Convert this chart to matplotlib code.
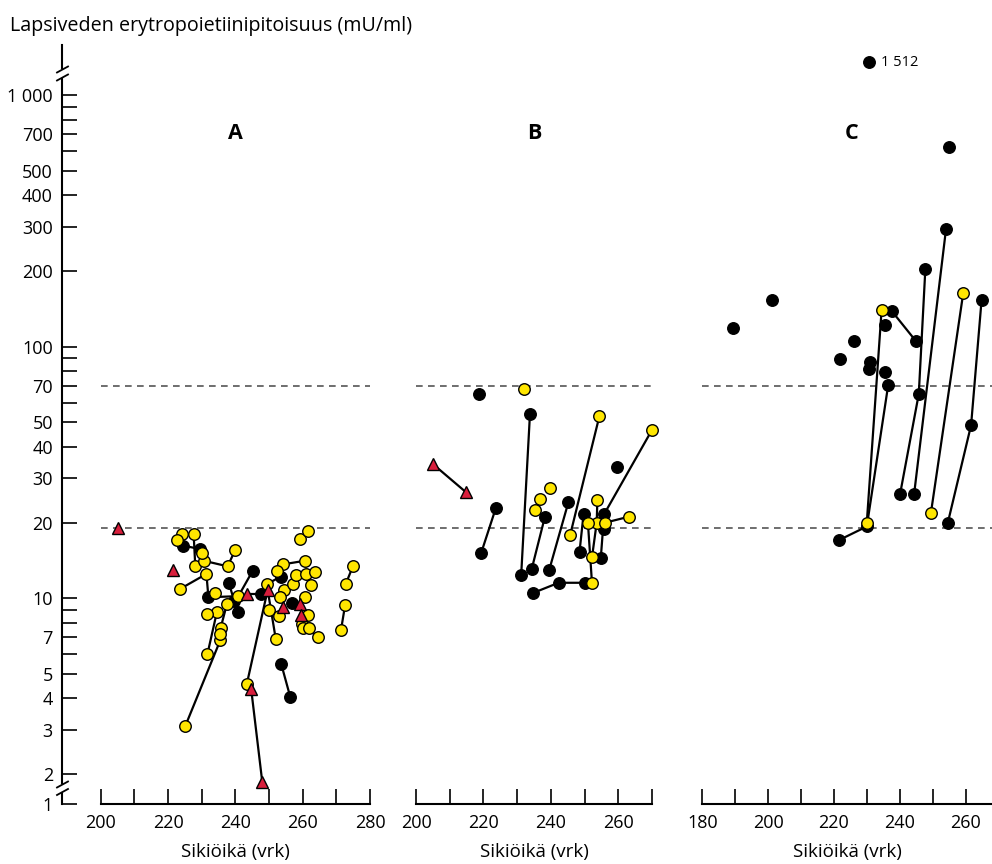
import numpy as np
import matplotlib
matplotlib.use("Agg")
import matplotlib.pyplot as plt
from matplotlib.lines import Line2D

plt.rcParams['font.family'] = ['Open Sans', 'DejaVu Sans']

# ---- data: gestational age (days), amniotic EPO (mU/ml), marker kind, subject id (0 = single sample)
# kind: 'b' = black dot, 'y' = yellow dot, 't' = red triangle
a_age = [224.5, 229.5, 227.6, 228.1, 230.7, 237.7, 239.9,
         223.6, 231.4, 232.0, 240.9, 245.2, 238.1, 239.6,
         231.7, 234.5, 225.1, 235.5, 235.6, 237.5,
         243.4, 249.6, 252.0, 244.7, 248.0, 243.6, 247.6,
         249.4, 253.5, 254.2, 260.6, 259.9, 264.5, 275.0, 272.8,
         272.6, 271.4, 253.6, 256.3, 254.5, 257.2,
         205.2, 221.6, 254.3, 259.2, 259.6, 240.7, 256.8,
         224.3, 222.8, 230.0, 233.9, 231.5, 235.5, 252.5, 258.1,
         261.0, 263.7, 262.4, 253.2, 260.8, 250.0, 253.0, 261.6,
         260.2, 261.8, 259.2, 261.5]
a_epo = [16.2, 15.7, 18.1, 13.4, 14.1, 13.4, 15.5,
         10.9, 12.5, 10.1, 10.2, 12.9, 11.5, 9.8,
         6.0, 8.8, 3.1, 6.8, 7.6, 9.5,
         4.56, 10.8, 6.9, 4.36, 1.86, 10.4, 10.4,
         11.4, 12.2, 13.65, 14.1, 7.9, 7.0, 13.5, 11.4,
         9.4, 7.5, 5.5, 4.06, 10.8, 11.4,
         19.1, 13.0, 9.2, 9.5, 8.6, 8.8, 9.55,
         18.1, 17.0, 15.2, 10.5, 8.7, 7.2, 12.8, 12.4,
         12.5, 12.7, 11.3, 10.1, 10.1, 9.0, 8.5, 8.6,
         7.6, 7.6, 17.2, 18.5]
a_kind = ['b', 'b', 'y', 'y', 'y', 'y', 'y',
          'y', 'y', 'b', 'y', 'b', 'b', 'b',
          'y', 'y', 'y', 'y', 'y', 'y',
          'y', 't', 'y', 't', 't', 't', 'b',
          'y', 'b', 'y', 'y', 'y', 'y', 'y', 'y',
          'y', 'y', 'b', 'b', 'y', 'y',
          't', 't', 't', 't', 't', 'b', 'b',
          'y', 'y', 'y', 'y', 'y', 'y', 'y', 'y',
          'y', 'y', 'y', 'y', 'y', 'y', 'y', 'y',
          'y', 'y', 'y', 'y']
a_subj = [1, 1, 2, 2, 3, 3, 3,
          4, 4, 4, 4, 4, 5, 5,
          6, 6, 7, 7, 8, 8,
          9, 9, 9, 10, 10, 11, 11,
          12, 12, 13, 13, 14, 14, 15, 15,
          16, 16, 17, 17, 18, 18] + [0] * 27

b_age = [233.8, 231.2, 254.4, 245.7, 270.0, 255.8, 254.8,
         253.8, 253.6, 252.2, 249.7, 248.5, 245.2, 239.5,
         238.2, 234.3, 223.7, 219.3, 234.7, 242.3, 250.0,
         251.0, 252.2, 263.1, 256.2, 205.1, 214.7,
         218.7, 232.0, 259.6, 236.8, 239.6, 235.3, 255.8]
b_epo = [53.9, 12.4, 53.0, 17.8, 46.7, 21.6, 14.4,
         24.7, 20.0, 14.55, 21.6, 15.3, 24.1, 12.95,
         21.0, 13.04, 22.9, 15.1, 10.5, 11.53, 11.53,
         19.9, 11.5, 21.1, 20.0, 34.1, 26.5,
         64.9, 67.7, 33.3, 24.9, 27.5, 22.4, 18.8]
b_kind = ['b', 'b', 'y', 'y', 'y', 'b', 'b',
          'y', 'y', 'y', 'b', 'b', 'b', 'b',
          'b', 'b', 'b', 'b', 'b', 'b', 'b',
          'y', 'y', 'y', 'y', 't', 't',
          'b', 'y', 'b', 'y', 'y', 'y', 'b']
b_subj = [1, 1, 2, 2, 3, 3, 3,
          4, 4, 4, 5, 5, 6, 6,
          7, 7, 8, 8, 9, 9, 9,
          10, 10, 11, 11, 12, 12] + [0] * 7

c_age = [234.5, 230.0, 221.6, 230.0, 236.5, 237.6, 244.9,
         247.8, 245.8, 240.1, 254.1, 244.4, 259.3, 249.5,
         264.9, 261.7, 254.6,
         189.2, 201.2, 221.9, 226.0, 231.1, 230.7, 235.4, 235.6,
         255.0, 230.7]
c_epo = [140, 20.0, 17.05, 19.3, 70.4, 138.6, 105.4,
         204, 64.9, 25.9, 295, 26.1, 163, 21.9,
         154, 48.8, 19.9,
         119, 153, 89.6, 105.6, 87.2, 81.3, 122, 79.1,
         620, 1512]
c_kind = ['y', 'y', 'b', 'b', 'b', 'b', 'b',
          'b', 'b', 'b', 'b', 'b', 'y', 'y',
          'b', 'b', 'b',
          'b', 'b', 'b', 'b', 'b', 'b', 'b', 'b',
          'b', 'b']
c_subj = [1, 1, 2, 2, 2, 3, 3,
          4, 4, 4, 5, 5, 6, 6,
          7, 7, 7] + [0] * 10

panel_names = ['A', 'B', 'C']
ref_lines = [70, 19]
y_major = [1, 2, 3, 4, 5, 7, 10, 20, 30, 40, 50, 70, 100, 200, 300, 400, 500, 700, 1000]
y_minor = [6, 8, 9, 60, 80, 90, 600, 800, 900]

# ---- broken log scale: compressed below 1.8 and above 1100
LO, K_LO = 1.8, 0.285
HI, K_HI = 1100.0, 0.653


def fwd(v):
    v = np.asarray(v, dtype=float)
    L = np.log10(np.clip(v, 1e-6, None))
    l0, l1 = np.log10(LO), np.log10(HI)
    out = np.where(L < l0, l0 + (L - l0) * K_LO, L)
    out = np.where(L > l1, l1 + (L - l1) * K_HI, out)
    return out


def inv(f):
    f = np.asarray(f, dtype=float)
    l0, l1 = np.log10(LO), np.log10(HI)
    L = np.where(f < l0, l0 + (f - l0) / K_LO, f)
    L = np.where(f > l1, l1 + (f - l1) / K_HI, L)
    return 10 ** L


W, H = 992, 864
fig = plt.figure(figsize=(W / 100, H / 100), dpi=100)


def fx(px):
    return px / W


def fy(py):
    return 1 - py / H


tick_font = 13
label_font = 13.5
yellow = '#FFE600'
red = '#D81E3C'
styles = {
    'b': dict(marker='o', ms=8.3, mfc='black', mec='black', mew=1.0),
    'y': dict(marker='o', ms=8.3, mfc=yellow, mec='black', mew=1.0),
    't': dict(marker='^', ms=9, mfc=red, mec='black', mew=1.0),
}

rects = [(100.7, 269.3), (416.0, 236.0), (702.3, 289.7)]
xlims = [(200, 280), (200, 270), (180, 180 + 289.7 / 3.29)]
xticks = [np.arange(200, 281, 10), np.arange(200, 271, 10), np.arange(180, 268, 10)]
data = [(a_age, a_epo, a_kind, a_subj), (b_age, b_epo, b_kind, b_subj),
        (c_age, c_epo, c_kind, c_subj)]

axes = []
for i, ((left, width), xl, xt, (age, epo, kind, subj)) in enumerate(zip(rects, xlims, xticks, data)):
    ax = fig.add_axes([fx(left), fy(804), width / W, 759 / H])
    ax.set_yscale('function', functions=(fwd, inv))
    ax.set_ylim(1, 1920)
    ax.set_xlim(*xl)
    for s in ('top', 'right', 'left'):
        ax.spines[s].set_visible(False)
    ax.spines['bottom'].set_linewidth(1.5)

    age = np.array(age)
    epo = np.array(epo)
    kind = np.array(kind)
    subj = np.array(subj)

    for s in sorted(set(subj.tolist()) - {0}):
        m = subj == s
        ax.plot(age[m], epo[m], color='black', lw=1.6, zorder=2, clip_on=False)
    for k in ('b', 'y', 't'):
        m = kind == k
        ax.plot(age[m], epo[m], ls='none', zorder=3, clip_on=False, **styles[k])

    for r in ref_lines:
        ax.axhline(r, color='#555555', lw=1.2, linestyle=(0, (4, 3.2)), zorder=1)

    ax.set_xticks(xt)
    ax.set_xticklabels([str(v) if (v % 20 == 0) else '' for v in xt])
    ax.tick_params(axis='x', direction='in', length=10.6, width=1.2, pad=7,
                   labelsize=tick_font)
    ax.set_xlabel('Sikiöikä (vrk)', fontsize=label_font, labelpad=8)

    ax.text(0.5 if i < 2 else 0.517, 0.884, panel_names[i], transform=ax.transAxes,
            ha='center', va='center', fontsize=15.5, fontweight='bold')

    if i == 0:
        ax.spines['left'].set_position(('outward', 38.7 * 0.72))
        ax.set_yticks(y_major)
        ax.set_yticklabels([f'{v:,}'.replace(',', ' ') for v in y_major])
        ax.set_yticks(y_minor, minor=True)
        ax.yaxis.set_minor_formatter(plt.NullFormatter())
        ax.tick_params(axis='y', which='both', direction='in', length=10.6, width=1.2,
                       pad=6.5, labelsize=tick_font)
    else:
        ax.set_yticks([])
        ax.set_yticks([], minor=True)
    axes.append(ax)

# label for the off-scale value in panel C
ce = np.array(c_epo)
ca = np.array(c_age)
j = int(np.argmax(ce))
axes[2].annotate(f'{int(ce[j]):,}'.replace(',', ' '), xy=(ca[j], ce[j]), xytext=(8.5, 0),
                 textcoords='offset points', va='center', ha='left', fontsize=10.5)

# y axis line with break marks
spine_x = 62
for y0, y1 in [(45, 68), (78.5, 783), (793, 804)]:
    fig.add_artist(Line2D([fx(spine_x)] * 2, [fy(y0), fy(y1)], color='black', lw=1.5))
for yc in (69.5, 77.5, 784.5, 792):
    fig.add_artist(Line2D([fx(57), fx(68)], [fy(yc + 3), fy(yc - 3)], color='black', lw=1.3))

fig.text(fx(10), fy(31), 'Lapsiveden erytropoietiinipitoisuus (mU/ml)', fontsize=14.2,
         ha='left', va='baseline')

fig.savefig('out.png', dpi=100)
